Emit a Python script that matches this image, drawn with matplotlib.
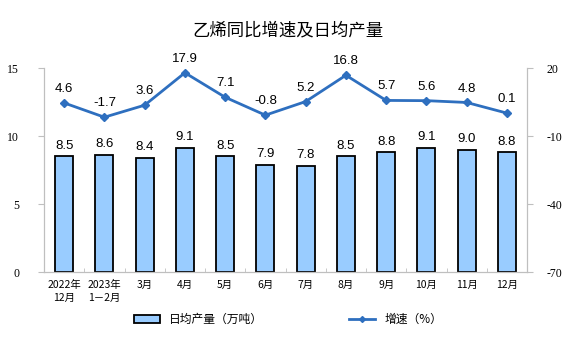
import matplotlib
matplotlib.use("Agg")
import matplotlib.pyplot as plt
from matplotlib.lines import Line2D
from matplotlib.patches import Patch

plt.rcParams['font.family'] = ['Noto Sans CJK SC', 'DejaVu Sans']

categories = ["2022年\n12月", "2023年\n1－2月", "3月", "4月", "5月", "6月", "7月", "8月", "9月", "10月", "11月", "12月"]
output = [8.5, 8.6, 8.4, 9.1, 8.5, 7.9, 7.8, 8.5, 8.8, 9.1, 9.0, 8.8]
growth = [4.6, -1.7, 3.6, 17.9, 7.1, -0.8, 5.2, 16.8, 5.7, 5.6, 4.8, 0.1]
left_ticks = [0, 5, 10, 15]
right_ticks = [-70, -40, -10, 20]

fig = plt.figure(figsize=(5.76, 3.57), dpi=100)
ax = fig.add_axes([0.0764, 0.238, 0.8386, 0.5715])
ax2 = ax.twinx()

x = list(range(len(categories)))
ax.bar(x, output, width=0.45, color='#99CCFF', edgecolor='black', linewidth=1.3, zorder=2)
for xi, v in zip(x, output):
    ax.text(xi, v + 0.35, f"{v:.1f}", ha='center', va='bottom', fontsize=9.5,
            family='Liberation Sans')

ax2.plot(x, growth, color='#2E6FBF', linewidth=2, marker='D', markersize=4, zorder=3)
for xi, v in zip(x, growth):
    ax2.text(xi, v + 3.5, f"{v:.1f}", ha='center', va='bottom', fontsize=9.5,
             family='Liberation Sans')

ax.set_xlim(-0.5, len(categories) - 0.5)
ax.set_ylim(0, 15)
ax2.set_ylim(-70, 20)
ax.set_yticks(left_ticks)
ax2.set_yticks(right_ticks)
ax.set_yticklabels([str(t) for t in left_ticks], family='Liberation Serif', fontsize=8.5)
ax2.set_yticklabels([str(t) for t in right_ticks], family='Liberation Serif', fontsize=8.5)

ax.set_xticks(x)
ax.set_xticklabels(categories, fontsize=7.5, linespacing=1.3)
ax.set_xticks([i + 0.5 for i in range(len(categories) - 1)], minor=True)
ax.tick_params(axis='x', which='major', length=0, pad=6)
ax.tick_params(axis='x', which='minor', length=3, color='#BFBFBF', direction='in')

for a in (ax, ax2):
    for s in a.spines.values():
        s.set_color('#BFBFBF')
    a.spines['top'].set_visible(False)
ax.tick_params(axis='y', length=4, color='#BFBFBF', pad=14)
ax2.tick_params(axis='y', length=4, color='#BFBFBF', pad=10)

fig.text(0.5, 0.915, "乙烯同比增速及日均产量", ha='center', va='center', fontsize=12.5)

handles = [Patch(facecolor='#99CCFF', edgecolor='black', linewidth=1.3),
           Line2D([0], [0], color='#2E6FBF', linewidth=2, marker='D', markersize=3)]
fig.legend(handles, ["日均产量（万吨）", "增速（%）"], loc='center', bbox_to_anchor=(0.5, 0.105),
           ncol=2, frameon=False, fontsize=8.5, columnspacing=7.3, handlelength=2.2,
           handleheight=0.6)

fig.savefig("out.png", dpi=100)
